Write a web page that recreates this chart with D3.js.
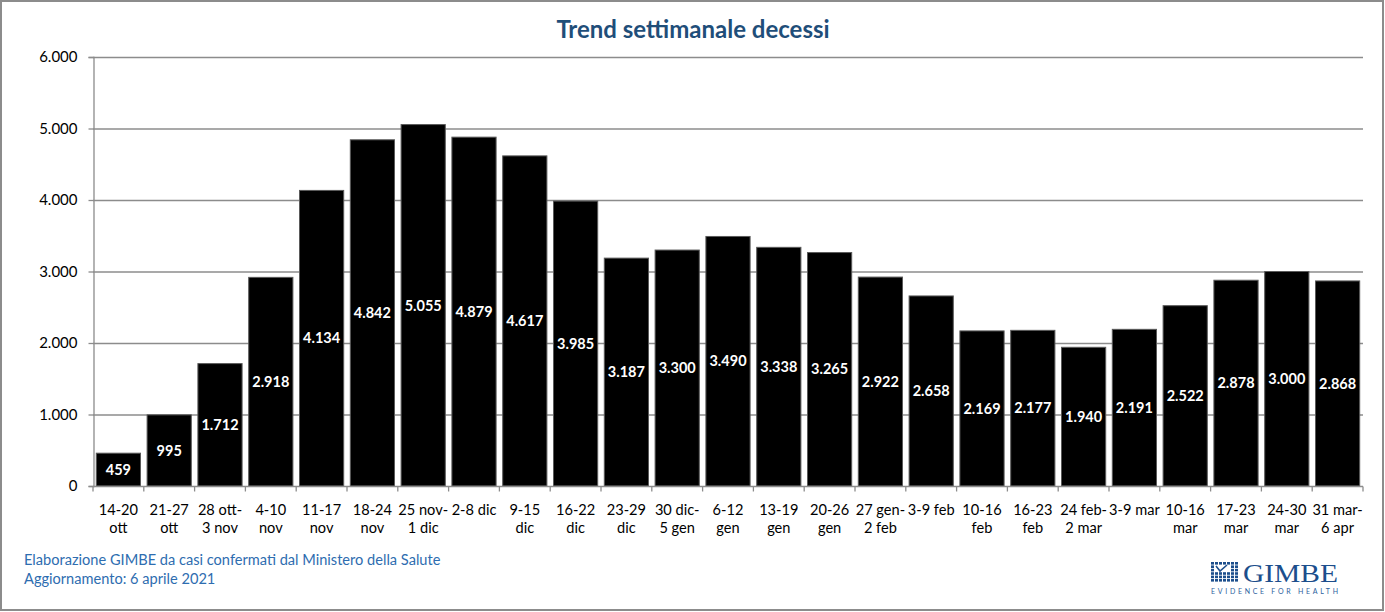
<!DOCTYPE html>
<html><head><meta charset="utf-8">
<script src="https://cdn.jsdelivr.net/npm/d3@7"></script>
<style>
html,body{margin:0;padding:0;background:#fff;}
svg{display:block;font-family:Lato,"Open Sans",sans-serif;}
</style></head>
<body>
<svg id="chart" width="1385" height="612"></svg>
<script>
const categories = [
  ["14-20","ott"],["21-27","ott"],["28 ott-","3 nov"],["4-10","nov"],["11-17","nov"],
  ["18-24","nov"],["25 nov-","1 dic"],["2-8 dic"],["9-15","dic"],["16-22","dic"],
  ["23-29","dic"],["30 dic-","5 gen"],["6-12","gen"],["13-19","gen"],["20-26","gen"],
  ["27 gen-","2 feb"],["3-9 feb"],["10-16","feb"],["16-23","feb"],["24 feb-","2 mar"],
  ["3-9 mar"],["10-16","mar"],["17-23","mar"],["24-30","mar"],["31 mar-","6 apr"]
];
const deaths = [459,995,1712,2918,4134,4842,5055,4879,4617,3985,3187,3300,3490,3338,3265,2922,2658,2169,2177,1940,2191,2522,2878,3000,2868];
const yTicks = [0,1000,2000,3000,4000,5000,6000];
const title = "Trend settimanale decessi";
const footer = ["Elaborazione GIMBE da casi confermati dal Ministero della Salute","Aggiornamento: 6 aprile 2021"];

const W = 1385, H = 612;
const m = {left:93, right:1363, top:57, bottom:486};
const svg = d3.select("#chart");
const it = d3.formatLocale({decimal:",", thousands:".", grouping:[3], currency:["€",""]});
const fmt = it.format(",d");

// frame
svg.append("rect").attr("x",1).attr("y",1).attr("width",W-3).attr("height",H-3)
  .attr("fill","#fff").attr("stroke","#8c8c8c").attr("stroke-width",2);

const x = d3.scaleBand().domain(d3.range(categories.length)).range([m.left,m.right]).paddingInner(0.13).paddingOuter(0.065);
const y = d3.scaleLinear().domain([0,6000]).range([m.bottom,m.top]);

// gridlines
svg.append("g").selectAll("line").data(yTicks.filter(d=>d>0)).join("line")
  .attr("x1",m.left).attr("x2",m.right).attr("y1",d=>y(d)+0.5).attr("y2",d=>y(d)+0.5)
  .attr("stroke","#8c8c8c").attr("stroke-width",1.3);

// y axis
const ya = svg.append("g").attr("transform",`translate(${m.left+0.5},0)`)
  .call(d3.axisLeft(y).tickValues(yTicks).tickFormat(fmt).tickSize(5).tickPadding(11));
ya.select(".domain").attr("stroke","#8c8c8c").attr("stroke-width",1.3);
ya.selectAll(".tick line").attr("stroke","#8c8c8c").attr("stroke-width",1.3);
ya.selectAll("text").attr("font-size",15).attr("fill","#000").attr("font-family","Lato,sans-serif");

// bars
svg.append("g").selectAll("rect").data(deaths).join("rect")
  .attr("x",(d,i)=>x(i)).attr("width",x.bandwidth())
  .attr("y",d=>y(d)).attr("height",d=>y(0)-y(d))
  .attr("fill","#000").attr("stroke","#5a5a5a").attr("stroke-width",1);

// x axis
const xa = svg.append("g").attr("transform",`translate(0,${m.bottom+0.5})`);
xa.append("line").attr("x1",m.left).attr("x2",m.right).attr("stroke","#8c8c8c").attr("stroke-width",1.3);
const bounds = d3.range(categories.length+1).map(i=>m.left + i*(m.right-m.left)/categories.length);
xa.selectAll(".tk").data(bounds).join("line").attr("class","tk")
  .attr("x1",d=>d).attr("x2",d=>d).attr("y1",0).attr("y2",5).attr("stroke","#8c8c8c").attr("stroke-width",1.3);
const xl = xa.selectAll(".xl").data(categories).join("text").attr("class","xl")
  .attr("x",(d,i)=>x(i)+x.bandwidth()/2).attr("y",28)
  .attr("text-anchor","middle").attr("font-size",14.6).attr("fill","#000");
xl.selectAll("tspan").data(d=>d).join("tspan")
  .attr("x",function(){return this.parentNode.getAttribute("x");})
  .attr("dy",(d,i)=>i===0?0:18).text(d=>d);

// value labels (centered in bar)
svg.append("g").selectAll("text").data(deaths).join("text")
  .attr("x",(d,i)=>x(i)+x.bandwidth()/2)
  .attr("y",d=>(y(d)+y(0))/2)
  .attr("dy","0.36em").attr("text-anchor","middle")
  .attr("font-size",14.5).attr("font-weight","bold").attr("fill","#fff")
  .text(d=>fmt(d));

// title
svg.append("text").attr("x",693).attr("y",38).attr("text-anchor","middle")
  .attr("font-size",24).attr("font-weight","bold").attr("fill","#1F4E79").text(title);

// footer
svg.append("g").selectAll("text").data(footer).join("text")
  .attr("x",24).attr("y",(d,i)=>565+i*19).attr("font-size",14.6).attr("fill","#2E6DB0").text(d=>d);

// logo
const logo = svg.append("g").attr("transform","translate(1211,562)");
const cells = [];
for(let r=0;r<6;r++) for(let c=0;c<7;c++){ cells.push([r,c]); }
logo.selectAll("rect").data(cells).join("rect")
  .attr("x",d=>d[1]*4).attr("y",d=>d[0]*3.4).attr("width",3).attr("height",2.6)
  .attr("fill",d=>((d[0]===1||d[0]===2)&&(d[1]>=1&&d[1]<=4))?"#fff":"#1c4e8c");
logo.append("path").attr("d","M5,4 L9,9 L16,3").attr("fill","none").attr("stroke","#1c4e8c").attr("stroke-width",1.6);
logo.append("text").attr("x",32).attr("y",19.5).attr("font-family","'Liberation Serif','DejaVu Serif',serif")
  .attr("font-size",26).attr("fill","#1c4e8c").attr("textLength",95).attr("lengthAdjust","spacingAndGlyphs").text("GIMBE");
logo.append("text").attr("x",0).attr("y",31.5).attr("font-size",7).attr("fill","#2c5f9e")
  .attr("textLength",127).attr("lengthAdjust","spacing").text("EVIDENCE FOR HEALTH");
</script>
</body></html>
